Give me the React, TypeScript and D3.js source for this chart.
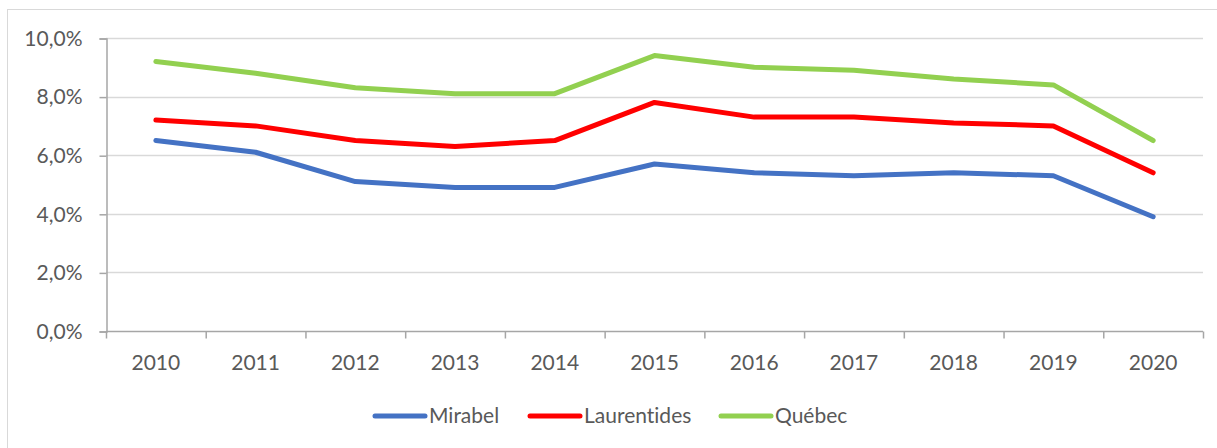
import React, { useEffect, useRef } from 'react';
import * as d3 from 'd3';

// Years on the x axis
const years = ['2010', '2011', '2012', '2013', '2014', '2015', '2016', '2017', '2018', '2019', '2020'];

// Rates in percent
const mirabel = [6.5, 6.1, 5.1, 4.9, 4.9, 5.7, 5.4, 5.3, 5.4, 5.3, 3.9];
const laurentides = [7.2, 7.0, 6.5, 6.3, 6.5, 7.8, 7.3, 7.3, 7.1, 7.0, 5.4];
const quebec = [9.2, 8.8, 8.3, 8.1, 8.1, 9.4, 9.0, 8.9, 8.6, 8.4, 6.5];

const seriesNames = ['Mirabel', 'Laurentides', 'Québec'];
const seriesColors = ['#4472C4', '#FF0000', '#92D050'];
const yTicks = [0, 2, 4, 6, 8, 10];

const W = 1217;
const H = 448;
const FONT = 'Lato, "Open Sans", sans-serif';

const App = () => {
  const ref = useRef<SVGSVGElement>(null);

  useEffect(() => {
    const svg = d3.select(ref.current);
    svg.selectAll('*').remove();

    const margin = { left: 106, right: 14, top: 38, bottom: 117 };
    const plotRight = W - margin.right;
    const plotBottom = H - margin.bottom;

    // outer chart frame
    svg.append('rect')
      .attr('x', 7.5).attr('y', 9.5)
      .attr('width', W + 10).attr('height', H + 10)
      .attr('fill', '#fff').attr('stroke', '#D9D9D9');

    const x = d3.scaleBand().domain(years).range([margin.left, plotRight]);
    const y = d3.scaleLinear().domain([0, 10]).range([plotBottom, margin.top]);

    // gridlines
    svg.append('g')
      .selectAll('line')
      .data(yTicks.filter(t => t > 0))
      .enter()
      .append('line')
      .attr('x1', margin.left).attr('x2', plotRight)
      .attr('y1', d => Math.round(y(d)) + 0.5).attr('y2', d => Math.round(y(d)) + 0.5)
      .attr('stroke', '#D9D9D9').attr('stroke-width', 1.5);

    // y axis
    const yAxis = svg.append('g')
      .attr('transform', `translate(${margin.left + 0.5},0.5)`)
      .call(d3.axisLeft(y).tickValues(yTicks).tickSize(7).tickPadding(17)
        .tickFormat(d => d3.format('.1f')(+d).replace('.', ',') + '%'));
    yAxis.select('.domain').attr('stroke', '#A6A6A6').attr('stroke-width', 1.5);
    yAxis.selectAll('.tick line').attr('stroke', '#A6A6A6').attr('stroke-width', 1.5);
    yAxis.selectAll('.tick text')
      .attr('fill', '#595959').style('font-family', FONT).style('font-size', '21px');

    // x axis, ticks between categories
    const xAxisG = svg.append('g').attr('transform', `translate(0,${plotBottom + 0.5})`);
    xAxisG.append('line')
      .attr('x1', margin.left).attr('x2', plotRight)
      .attr('stroke', '#A6A6A6').attr('stroke-width', 1.5);
    const edges = years.map(d => x(d)!).concat([plotRight]);
    xAxisG.selectAll('line.tk')
      .data(edges)
      .enter()
      .append('line')
      .attr('class', 'tk')
      .attr('x1', d => d + 0.5).attr('x2', d => d + 0.5)
      .attr('y1', 0).attr('y2', 7)
      .attr('stroke', '#A6A6A6').attr('stroke-width', 1.5);
    xAxisG.selectAll('text')
      .data(years)
      .enter()
      .append('text')
      .attr('x', d => x(d)! + x.bandwidth() / 2)
      .attr('y', 38)
      .attr('text-anchor', 'middle')
      .attr('fill', '#595959')
      .style('font-family', FONT).style('font-size', '21px')
      .text(d => d);

    // lines
    const line = d3.line<number>()
      .x((_, i) => x(years[i])! + x.bandwidth() / 2)
      .y(d => y(d));
    [mirabel, laurentides, quebec].forEach((vals, i) => {
      svg.append('path')
        .datum(vals)
        .attr('d', line)
        .attr('fill', 'none')
        .attr('stroke', seriesColors[i])
        .attr('stroke-width', 5)
        .attr('stroke-linejoin', 'round')
        .attr('stroke-linecap', 'round');
    });

    // legend
    const legendX = [375, 530, 721];
    const legendY = 416;
    seriesNames.forEach((name, i) => {
      const g = svg.append('g').attr('transform', `translate(${legendX[i]},${legendY})`);
      g.append('line')
        .attr('x1', 0).attr('x2', 50)
        .attr('stroke', seriesColors[i]).attr('stroke-width', 5)
        .attr('stroke-linecap', 'round');
      g.append('text')
        .attr('x', 54).attr('y', 7)
        .attr('fill', '#595959')
        .style('font-family', FONT).style('font-size', '21px')
        .style('font-variant-ligatures', 'none')
        .text(name);
    });
  }, []);

  return (
    <svg ref={ref} width={W} height={H}
      style={{ position: 'absolute', left: 0, top: 0, display: 'block', background: '#fff' }} />
  );
};

export default App;
